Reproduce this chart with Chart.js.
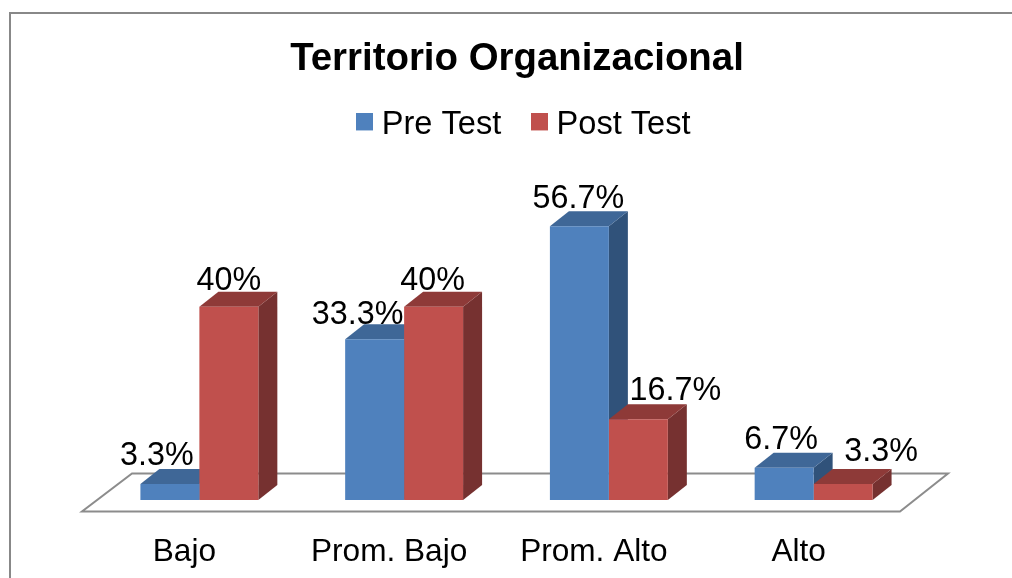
<!DOCTYPE html>
<html><head><meta charset="utf-8">
<style>html,body{margin:0;padding:0;background:#fff}canvas{display:block}</style>
<script src="https://cdn.jsdelivr.net/npm/chart.js@4"></script>
</head><body><div style="width:1012px;height:578px"><canvas id="c" width="1012" height="578"></canvas></div>
<script>
const categories = ['Bajo','Prom. Bajo','Prom. Alto','Alto'];
const preTest = [3.3,33.3,56.7,6.7];
const postTest = [40,40,16.7,3.3];
const preNudge = [[-13,-28],[-17,-24],[-1,-27],[-3,-28]];
const postNudge = [[0,-26],[-1,-26],[37,-28],[38,-32]];

const DEPTH_X = 19, DEPTH_Y = 15;
const fronts = ['#4f81bd','#c0504d'];
const faces = [
  {top:'#3f6797', side:'#30527a'},
  {top:'#8e3a38', side:'#763130'}
];
function swatch(color){
  const c = document.createElement('canvas');
  c.width = 17; c.height = 23;
  const g = c.getContext('2d');
  g.fillStyle = color; g.fillRect(0,0,17,17);
  return c;
}
const swatches = fronts.map(swatch);
function poly(ctx, pts, fill){
  ctx.beginPath();
  pts.forEach((p,i)=> i?ctx.lineTo(p[0],p[1]):ctx.moveTo(p[0],p[1]));
  ctx.closePath();
  ctx.fillStyle = fill; ctx.fill();
}
const shift = (b,dx,dy)=>{ b.left+=dx; b.right+=dx; b.top+=dy; b.bottom+=dy; };
const scene = {
  id:'scene',
  afterLayout(chart){
    shift(chart.titleBlock, 10.5, 0);
    shift(chart.legend, 20.5, -10.5);
    if (chart.legend.adjustHitBoxes) chart.legend.adjustHitBoxes();
  },
  beforeDraw(chart){
    const ctx = chart.ctx;
    ctx.save();
    ctx.fillStyle='#fff'; ctx.fillRect(0,0,chart.width,chart.height);
    ctx.strokeStyle='#888888'; ctx.lineWidth=2;
    ctx.beginPath(); ctx.moveTo(10,chart.height); ctx.lineTo(10,13); ctx.lineTo(chart.width,13); ctx.stroke();
    ctx.restore();
  },
  beforeDatasetsDraw(chart){
    const ctx = chart.ctx, a = chart.chartArea, y0 = chart.scales.y.getPixelForValue(0);
    ctx.save();
    ctx.strokeStyle='#8c8c8c'; ctx.lineWidth=2; ctx.lineJoin='miter';
    ctx.beginPath();
    ctx.moveTo(a.left-15,y0+11.5); ctx.lineTo(a.right-16,y0+11.5);
    ctx.lineTo(a.right+32,y0-26.5); ctx.lineTo(a.left+35,y0-26.5); ctx.closePath();
    ctx.stroke();
    chart.data.datasets.forEach((ds,i)=>{
      chart.getDatasetMeta(i).data.forEach(bar=>{
        const l=bar.x-bar.width/2, r=bar.x+bar.width/2, t=bar.y, b=bar.base;
        poly(ctx,[[r,t],[r+DEPTH_X,t-DEPTH_Y],[r+DEPTH_X,b-DEPTH_Y],[r,b]],faces[i].side);
        poly(ctx,[[l,t],[l+DEPTH_X,t-DEPTH_Y],[r+DEPTH_X,t-DEPTH_Y],[r,t]],faces[i].top);
      });
    });
    ctx.restore();
  },
  afterDatasetsDraw(chart){
    const ctx = chart.ctx;
    ctx.save();
    ctx.font='32.3px "Liberation Sans"'; ctx.fillStyle='#000';
    ctx.textAlign='center'; ctx.textBaseline='middle';
    chart.data.datasets.forEach((ds,i)=>{
      const nudge = i===0?preNudge:postNudge;
      chart.getDatasetMeta(i).data.forEach((bar,j)=>{
        ctx.fillText(ds.data[j]+'%', bar.x+nudge[j][0], bar.y+nudge[j][1]);
      });
    });
    ctx.restore();
  }
};
new Chart(document.getElementById('c'),{
  type:'bar',
  data:{labels:categories,datasets:[
    {label:'Pre Test',data:preTest,backgroundColor:fronts[0],categoryPercentage:0.576,barPercentage:1},
    {label:'Post Test',data:postTest,backgroundColor:fronts[1],categoryPercentage:0.576,barPercentage:1}
  ]},
  options:{
    responsive:false,animation:false,
    layout:{padding:{left:97,right:96,top:0,bottom:0}},
    scales:{
      x:{grid:{display:false},border:{display:false},
         afterFit(s){ s.height = 78; },
         ticks:{color:'#000',font:{family:'"Liberation Sans"',size:31.6},padding:25,labelOffset:-15,maxRotation:0,autoSkip:false}},
      y:{display:false,min:0,max:70.06}
    },
    plugins:{
      tooltip:{enabled:false},
      title:{display:true,text:'Territorio Organizacional',color:'#000',
        font:{family:'"Liberation Sans"',size:38.4,weight:'bold'},padding:{top:36,bottom:0}},
      legend:{display:true,position:'top',
        labels:{color:'#000',font:{family:'"Liberation Sans"',size:32.6},usePointStyle:true,boxWidth:2,boxHeight:17,padding:37,
          generateLabels(chart){
            const items = Chart.defaults.plugins.legend.labels.generateLabels(chart);
            items.forEach((it,i)=>{ it.pointStyle = swatches[i]; });
            return items;
          }}}
    }
  },
  plugins:[scene]
});
</script></body></html>
